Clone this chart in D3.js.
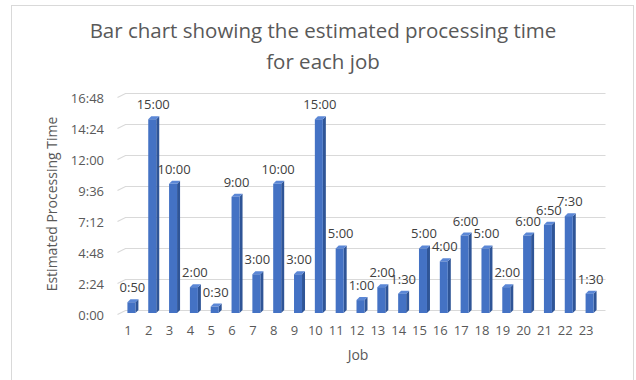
<!DOCTYPE html>
<html>
<head>
<meta charset="utf-8">
<script src="https://cdn.jsdelivr.net/npm/d3@7"></script>
<style>
  html, body { margin: 0; padding: 0; background: #ffffff; }
  svg text { font-family: "Open Sans", Lato, sans-serif; }
</style>
</head>
<body>
<svg id="chart" width="636" height="380"></svg>
<script>
// Jobs and their estimated processing time (h:mm)
const jobs = d3.range(1, 24).map(String);
const processingTimes = ["0:50", "15:00", "10:00", "2:00", "0:30", "9:00", "3:00", "10:00", "3:00", "15:00",
  "5:00", "1:00", "2:00", "1:30", "5:00", "4:00", "6:00", "5:00", "2:00", "6:00", "6:50", "7:30", "1:30"];
// Axis ticks in hours (every 2h24m)
const yTicks = [0, 2.4, 4.8, 7.2, 9.6, 12, 14.4, 16.8];

const titleLines = ["Bar chart showing the estimated processing time", "for each job"];
const xTitle = "Job";
const yTitle = "Estimated Processing Time";

const toHours = s => { const [h, m] = s.split(":").map(Number); return h + m / 60; };
const fmtHM = h => { const tot = Math.round(h * 60); return Math.floor(tot / 60) + ":" + String(tot % 60).padStart(2, "0"); };

const data = jobs.map((j, i) => ({ job: j, label: processingTimes[i], hours: toHours(processingTimes[i]) }));

const svg = d3.select("#chart");
const FONT = "'Open Sans', Lato, sans-serif";

// chart frame
svg.append("rect")
  .attr("x", 11.5).attr("y", 5.5)
  .attr("width", 622).attr("height", 400)
  .attr("fill", "#ffffff").attr("stroke", "#d9d9d9");

// title
svg.append("g").selectAll("text").data(titleLines).join("text")
  .attr("x", 323).attr("y", (d, i) => 38 + i * 31)
  .attr("text-anchor", "middle")
  .attr("font-size", 20.5)
  .attr("fill", "#595959")
  .text(d => d);

// plot geometry (front plane) and 3D depth offset
const plotLeft = 118.5, plotRight = 597.5, plotBottom = 313, plotTop = 96;
const depthX = 8, depthY = -4;

const x = d3.scaleBand().domain(jobs).range([plotLeft, plotRight]);
const y = d3.scaleLinear().domain([0, 16.8]).range([plotBottom, plotTop]);

// gridlines on the back wall with a slanted floor edge
const grid = svg.append("g");
yTicks.forEach(t => {
  const yy = Math.round(y(t)) + 0.5;
  grid.append("path")
    .attr("d", `M${plotLeft - 1},${yy + 1} L${plotLeft - 1 + depthX},${yy + 1 + depthY} L${plotRight + depthX},${yy + 1 + depthY}`)
    .attr("fill", "none").attr("stroke", "#d9d9d9").attr("stroke-width", 1.2);
});

// y axis tick labels
const yAxis = d3.axisLeft(y).tickValues(yTicks).tickFormat(fmtHM).tickSize(0).tickPadding(0);
const gy = svg.append("g").attr("transform", `translate(104,2)`).call(yAxis);
gy.select(".domain").remove();
gy.selectAll("text").attr("font-size", 13).attr("fill", "#595959").attr("font-family", FONT);

// x axis tick labels
const xAxis = d3.axisBottom(x).tickSize(0).tickPadding(0);
const gx = svg.append("g").attr("transform", `translate(-1,${plotBottom + 13})`).call(xAxis);
gx.select(".domain").remove();
gx.selectAll("text").attr("font-size", 13).attr("fill", "#595959").attr("font-family", FONT);

// axis titles
svg.append("text")
  .attr("x", 358).attr("y", 360)
  .attr("text-anchor", "middle").attr("font-size", 14).attr("fill", "#595959")
  .text(xTitle);
svg.append("text")
  .attr("transform", "translate(57,204) rotate(-90)")
  .attr("text-anchor", "middle").attr("font-size", 14).attr("fill", "#595959")
  .text(yTitle);

// 3D columns
const barW = 8, sideW = 3, sideH = 3;
const bx = d => x(d.job) + x.bandwidth() / 2 - 1.5;
const bars = svg.append("g").selectAll("g").data(data).join("g");

bars.append("path") // side face
  .attr("d", d => {
    const x0 = bx(d) + barW, yt = y(d.hours);
    return `M${x0},${yt} L${x0 + sideW},${yt - sideH} L${x0 + sideW},${plotBottom - sideH} L${x0},${plotBottom} Z`;
  })
  .attr("fill", "#2f5597");

bars.append("path") // top face
  .attr("d", d => {
    const x0 = bx(d), yt = y(d.hours);
    return `M${x0},${yt} L${x0 + sideW},${yt - sideH} L${x0 + barW + sideW},${yt - sideH} L${x0 + barW},${yt} Z`;
  })
  .attr("fill", "#5b87d6");

bars.append("rect") // front face
  .attr("x", d => bx(d))
  .attr("y", d => y(d.hours))
  .attr("width", barW)
  .attr("height", d => plotBottom - y(d.hours))
  .attr("fill", "#4472c4");

// value labels
svg.append("g").selectAll("text").data(data).join("text")
  .attr("x", d => bx(d) + barW / 2 + 1)
  .attr("y", d => y(d.hours) - 10)
  .attr("text-anchor", "middle")
  .attr("font-size", 13)
  .attr("fill", "#404040")
  .text(d => d.label);
</script>
</body>
</html>
